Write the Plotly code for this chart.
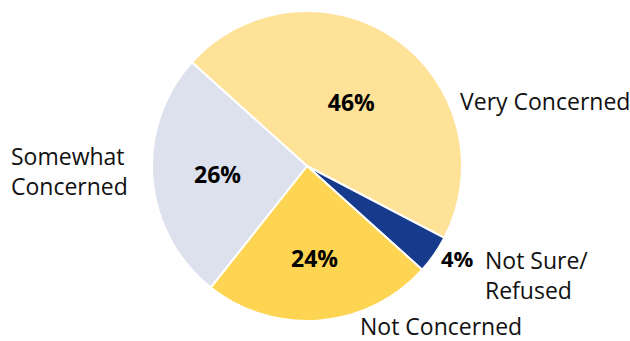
import plotly.graph_objects as go

# Survey responses (percent of respondents)
categories = ["Very Concerned", "Not Sure/ Refused", "Not Concerned", "Somewhat Concerned"]
values = [46, 4, 24, 26]
colors = ["#FEE297", "#163B8C", "#FED552", "#DDE1EE"]

FONT = "Open Sans"

fig = go.Figure(
    go.Pie(
        labels=categories,
        values=values,
        sort=False,
        direction="clockwise",
        rotation=-48,
        marker=dict(colors=colors, line=dict(color="white", width=2)),
        texttemplate="<b>%{value}%</b>",
        textposition=["inside", "none", "inside", "inside"],
        insidetextorientation="horizontal",
        textfont=dict(family=FONT, size=23, color="black"),
        hoverinfo="label+percent",
        domain=dict(x=[(307 - 155) / 630, (307 + 155) / 630],
                    y=[1 - 321 / 341, 1 - 11 / 341]),
        showlegend=False,
    )
)

label_font = dict(family=FONT, size=23, color="#111111")

def px(x, y):
    return x / 630, 1 - y / 341

annots = [
    (categories[0], 459, 101),
    ("Somewhat<br>Concerned", 10, 171),
    ("Not Sure/<br>Refused", 484, 275),
    (categories[2], 359, 326),
]
for text, x, y in annots:
    ax, ay = px(x, y)
    fig.add_annotation(x=ax, y=ay, xref="paper", yref="paper", text=text,
                       showarrow=False, xanchor="left", yanchor="middle",
                       align="left", font=label_font, borderpad=0)

# small slice value sits outside the pie
ax, ay = px(439, 258)
fig.add_annotation(x=ax, y=ay, xref="paper", yref="paper",
                   text=f"<b>{values[1]}%</b>", showarrow=False,
                   xanchor="left", yanchor="middle",
                   font=dict(family=FONT, size=22, color="black"))

fig.update_layout(
    width=630, height=341,
    margin=dict(l=0, r=0, t=0, b=0),
    paper_bgcolor="white",
    plot_bgcolor="white",
)

fig.write_html("out.html")
